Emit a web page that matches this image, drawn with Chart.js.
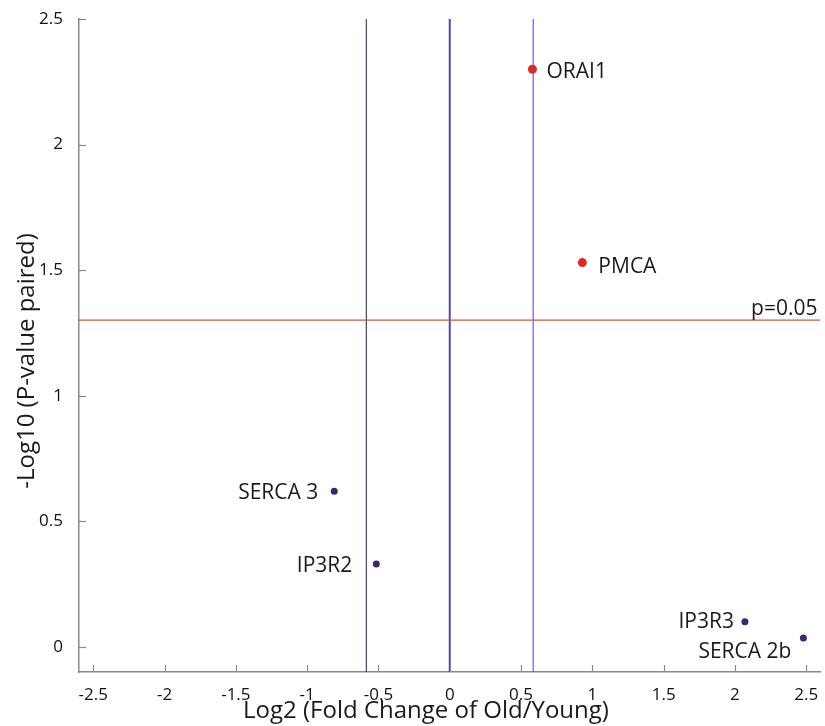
<!DOCTYPE html>
<html>
<head>
<meta charset="utf-8">
<script src="https://cdn.jsdelivr.net/npm/chart.js@4.4.1/dist/chart.umd.min.js"></script>
<style>
  html, body { margin: 0; padding: 0; background: #ffffff; }
  #wrap { width: 825px; height: 726px; position: relative; }
</style>
</head>
<body>
<div id="wrap"><canvas id="c" width="825" height="726"></canvas></div>
<script>
// ---- data ----
const genes = ['ORAI1', 'PMCA', 'SERCA 3', 'IP3R2', 'IP3R3', 'SERCA 2b'];
const log2FoldChange = [0.58, 0.93, -0.81, -0.515, 2.07, 2.48];
const negLog10P = [2.30, 1.53, 0.62, 0.33, 0.10, 0.035];
const xTicks = [-2.5, -2, -1.5, -1, -0.5, 0, 0.5, 1, 1.5, 2, 2.5];
const yTicks = [0, 0.5, 1, 1.5, 2, 2.5];
const pThreshold = 1.301;           // -log10(0.05)
const pThresholdLabel = 'p=0.05';
const foldThresholds = [-0.585, 0, 0.585];
const xRange = [-2.6, 2.6];
const yRange = [-0.1, 2.5];

// ---- styles ----
const FONT = "'Open Sans', 'Noto Sans', sans-serif";
const sigColor = '#e2272b';
const nsColor = '#3c2477';
const vLineStyles = [
  { color: '#3a2e62', width: 1.1 },
  { color: '#54479a', width: 2 },
  { color: '#5f50d0', width: 1.1 }
];
const labelOffsets = [
  { dx: 14, dy: 3, align: 'left' },
  { dx: 16, dy: 4, align: 'left' },
  { dx: -16, dy: 2, align: 'right' },
  { dx: -24, dy: 2, align: 'right' },
  { dx: -11, dy: 0, align: 'right' },
  { dx: -12, dy: 14, align: 'right' }
];

const points = genes.map((g, i) => ({ x: log2FoldChange[i], y: negLog10P[i] }));
const ptColors = negLog10P.map(v => v > pThreshold ? sigColor : nsColor);
const ptRadius = negLog10P.map(v => v > pThreshold ? 4.5 : 3.5);

const datasets = [{
  type: 'scatter',
  label: 'genes',
  data: points,
  pointBackgroundColor: ptColors,
  pointBorderWidth: 0,
  pointRadius: ptRadius,
  order: 0
}];
foldThresholds.forEach((v, i) => {
  datasets.push({
    type: 'line',
    label: 'fc' + i,
    data: [{ x: v, y: yRange[0] }, { x: v, y: yRange[1] }],
    borderColor: vLineStyles[i].color,
    borderWidth: vLineStyles[i].width,
    pointRadius: 0,
    order: 2
  });
});
datasets.push({
  type: 'line',
  label: 'p',
  data: [{ x: xRange[0], y: pThreshold }, { x: xRange[1], y: pThreshold }],
  borderColor: '#ea4a36',
  borderWidth: 1.1,
  pointRadius: 0,
  order: 1
});

const decorPlugin = {
  id: 'decor',
  afterDatasetsDraw(chart) {
    const ctx = chart.ctx;
    const xs = chart.scales.x, ys = chart.scales.y;
    const area = chart.chartArea;
    ctx.save();
    // inward ticks
    ctx.strokeStyle = '#8a8a8a';
    ctx.lineWidth = 1.2;
    xTicks.forEach(t => {
      const px = Math.round(xs.getPixelForValue(t)) + 0.5;
      ctx.beginPath(); ctx.moveTo(px, area.bottom); ctx.lineTo(px, area.bottom - 7); ctx.stroke();
    });
    yTicks.forEach(t => {
      const py = Math.round(ys.getPixelForValue(t)) + 0.5;
      ctx.beginPath(); ctx.moveTo(area.left, py); ctx.lineTo(area.left + 7, py); ctx.stroke();
    });
    // point labels
    const meta = chart.getDatasetMeta(0);
    ctx.fillStyle = '#1a1a1a';
    ctx.font = '21px ' + FONT;
    ctx.textBaseline = 'middle';
    meta.data.forEach((el, i) => {
      const o = labelOffsets[i];
      ctx.textAlign = o.align;
      ctx.fillText(genes[i], el.x + o.dx, el.y + o.dy);
    });
    // threshold label
    ctx.textAlign = 'right';
    ctx.textBaseline = 'alphabetic';
    ctx.fillText(pThresholdLabel, area.right - 3, ys.getPixelForValue(pThreshold) - 5);
    // axis titles
    ctx.font = '24px ' + FONT;
    ctx.textAlign = 'center';
    ctx.textBaseline = 'middle';
    ctx.fillText('Log2 (Fold Change of Old/Young)', 426, 711);
    ctx.translate(27, 361);
    ctx.rotate(-Math.PI / 2);
    ctx.fillText('-Log10 (P-value paired)', 0, 0);
    ctx.restore();
  }
};

new Chart(document.getElementById('c'), {
  data: { datasets },
  options: {
    responsive: false,
    animation: false,
    layout: { padding: { left: 0, right: 2, top: 19, bottom: 0 } },
    plugins: { legend: { display: false }, tooltip: { enabled: false } },
    scales: {
      x: {
        type: 'linear',
        min: xRange[0], max: xRange[1],
        afterBuildTicks: s => { s.ticks = xTicks.map(v => ({ value: v })); },
        afterFit: s => { s.height = 54; },
        grid: { display: false },
        border: { display: true, color: '#8a8a8a', width: 1.5 },
        ticks: { color: '#111111', font: { family: FONT, size: 17 }, padding: 5, maxRotation: 0, callback: v => String(v) }
      },
      y: {
        type: 'linear',
        min: yRange[0], max: yRange[1],
        afterBuildTicks: s => { s.ticks = yTicks.map(v => ({ value: v })); },
        afterFit: s => { s.width = 79; },
        grid: { display: false },
        border: { display: true, color: '#8a8a8a', width: 1.5 },
        ticks: { color: '#111111', font: { family: FONT, size: 17 }, padding: 8, callback: v => String(v) }
      }
    }
  },
  plugins: [decorPlugin]
});
</script>
</body>
</html>
